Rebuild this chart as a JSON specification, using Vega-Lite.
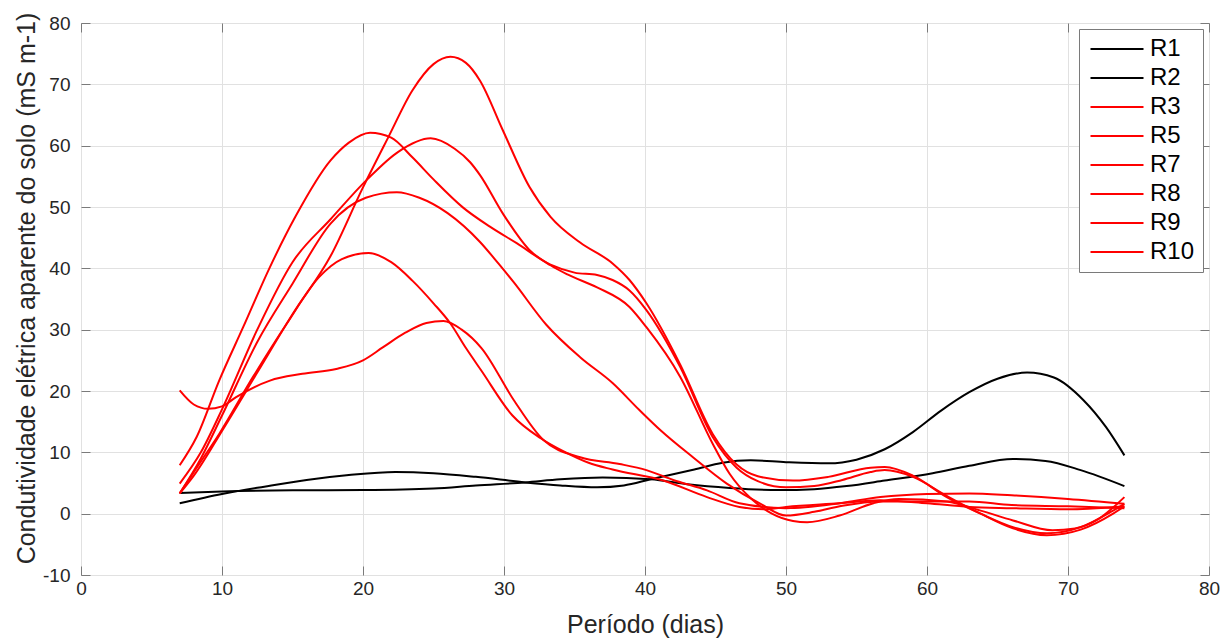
{
  "$schema": "https://vega.github.io/schema/vega-lite/v6.json",
  "width": 1128,
  "height": 552,
  "autosize": {"type": "none"},
  "padding": {"left": 81, "top": 23, "right": 15, "bottom": 67},
  "background": "white",
  "config": {
    "font": "Liberation Sans",
    "view": {"stroke": "#7a7a7a", "strokeWidth": 1}
  },
  "datasets": {
    "d": [
      {"s":"R1","x":7,"y":3.35},{"s":"R1","x":10,"y":3.6},{"s":"R1","x":15,"y":3.8},{"s":"R1","x":20,"y":3.85},{"s":"R1","x":25,"y":4.1},{"s":"R1","x":28,"y":4.6},{"s":"R1","x":31.5,"y":5.1},{"s":"R1","x":34,"y":5.6},{"s":"R1","x":37,"y":5.9},{"s":"R1","x":40.4,"y":5.6},{"s":"R1","x":43,"y":4.8},{"s":"R1","x":46,"y":4.2},{"s":"R1","x":49.5,"y":3.85},{"s":"R1","x":52,"y":4.0},{"s":"R1","x":54.3,"y":4.5},{"s":"R1","x":57,"y":5.4},{"s":"R1","x":60.4,"y":6.6},{"s":"R1","x":63,"y":7.8},{"s":"R1","x":66.1,"y":8.9},{"s":"R1","x":68.4,"y":8.6},{"s":"R1","x":70.9,"y":7.1},{"s":"R1","x":74,"y":4.5},

      {"s":"R2","x":7,"y":1.7},{"s":"R2","x":10,"y":3.2},{"s":"R2","x":13,"y":4.4},{"s":"R2","x":16,"y":5.5},{"s":"R2","x":19,"y":6.3},{"s":"R2","x":22.3,"y":6.8},{"s":"R2","x":25,"y":6.6},{"s":"R2","x":28,"y":6.0},{"s":"R2","x":31.5,"y":5.1},{"s":"R2","x":34,"y":4.6},{"s":"R2","x":36.6,"y":4.3},{"s":"R2","x":38.5,"y":4.6},{"s":"R2","x":40.4,"y":5.6},{"s":"R2","x":43.5,"y":7.2},{"s":"R2","x":45.5,"y":8.3},{"s":"R2","x":47.5,"y":8.7},{"s":"R2","x":50,"y":8.4},{"s":"R2","x":53,"y":8.2},{"s":"R2","x":55,"y":8.8},{"s":"R2","x":57,"y":10.5},{"s":"R2","x":59,"y":13.3},{"s":"R2","x":61,"y":16.8},{"s":"R2","x":63,"y":19.8},{"s":"R2","x":65,"y":22},{"s":"R2","x":67.1,"y":23.0},{"s":"R2","x":69,"y":22.2},{"s":"R2","x":71.1,"y":18.5},{"s":"R2","x":72.7,"y":14.1},{"s":"R2","x":74,"y":9.5},

      {"s":"R3","x":7,"y":20.1},{"s":"R3","x":8,"y":17.8},{"s":"R3","x":9,"y":17.1},{"s":"R3","x":10,"y":17.5},{"s":"R3","x":11,"y":19},{"s":"R3","x":13.4,"y":21.7},{"s":"R3","x":15.7,"y":22.8},{"s":"R3","x":18.1,"y":23.6},{"s":"R3","x":20,"y":25},{"s":"R3","x":21.4,"y":27.1},{"s":"R3","x":23,"y":29.5},{"s":"R3","x":24.5,"y":31.1},{"s":"R3","x":25.7,"y":31.4},{"s":"R3","x":27,"y":30},{"s":"R3","x":28.4,"y":27},{"s":"R3","x":30.7,"y":18.5},{"s":"R3","x":32.8,"y":12},{"s":"R3","x":35.4,"y":9.2},{"s":"R3","x":38.2,"y":8.1},{"s":"R3","x":40.1,"y":7.1},{"s":"R3","x":42,"y":5.5},{"s":"R3","x":44.4,"y":3.8},{"s":"R3","x":46.7,"y":1.7},{"s":"R3","x":50,"y":0.9},{"s":"R3","x":53.8,"y":1.7},{"s":"R3","x":56.7,"y":2.7},{"s":"R3","x":60,"y":3.2},{"s":"R3","x":63,"y":3.3},{"s":"R3","x":66,"y":3.0},{"s":"R3","x":70,"y":2.4},{"s":"R3","x":74,"y":1.6},

      {"s":"R5","x":7,"y":3.3},{"s":"R5","x":8.5,"y":8.5},{"s":"R5","x":9.8,"y":13},{"s":"R5","x":12.2,"y":22.3},{"s":"R5","x":14.6,"y":31},{"s":"R5","x":16.9,"y":38.6},{"s":"R5","x":18.5,"y":41.5},{"s":"R5","x":20.4,"y":42.5},{"s":"R5","x":22,"y":41},{"s":"R5","x":23.5,"y":38},{"s":"R5","x":25,"y":34.3},{"s":"R5","x":26.2,"y":31},{"s":"R5","x":27.3,"y":27},{"s":"R5","x":28.4,"y":23.3},{"s":"R5","x":30.6,"y":16},{"s":"R5","x":32.6,"y":12.3},{"s":"R5","x":34.2,"y":10.2},{"s":"R5","x":36,"y":8.3},{"s":"R5","x":37.7,"y":7.2},{"s":"R5","x":41.3,"y":5.4},{"s":"R5","x":44.4,"y":2.7},{"s":"R5","x":46.7,"y":1.1},{"s":"R5","x":48.5,"y":0.7},{"s":"R5","x":50,"y":1.1},{"s":"R5","x":53.8,"y":1.7},{"s":"R5","x":56.7,"y":2.2},{"s":"R5","x":60,"y":1.7},{"s":"R5","x":63,"y":1.1},{"s":"R5","x":66,"y":0.9},{"s":"R5","x":70,"y":0.7},{"s":"R5","x":74,"y":1.2},

      {"s":"R7","x":7,"y":3.3},{"s":"R7","x":8.5,"y":9},{"s":"R7","x":10,"y":16},{"s":"R7","x":12.5,"y":28},{"s":"R7","x":15,"y":37.5},{"s":"R7","x":17.7,"y":47.3},{"s":"R7","x":20.2,"y":51.5},{"s":"R7","x":22.4,"y":52.4},{"s":"R7","x":24,"y":51.5},{"s":"R7","x":26,"y":49},{"s":"R7","x":28.3,"y":44.3},{"s":"R7","x":29.6,"y":40.8},{"s":"R7","x":30.7,"y":37.7},{"s":"R7","x":33,"y":30.8},{"s":"R7","x":35.4,"y":25.5},{"s":"R7","x":37.7,"y":21.3},{"s":"R7","x":39.6,"y":16.9},{"s":"R7","x":41.1,"y":13.6},{"s":"R7","x":43.4,"y":9.2},{"s":"R7","x":45.8,"y":4.9},{"s":"R7","x":48.2,"y":1.6},{"s":"R7","x":50,"y":-0.3},{"s":"R7","x":52,"y":0.3},{"s":"R7","x":54,"y":1.3},{"s":"R7","x":56.7,"y":2.0},{"s":"R7","x":60,"y":2.0},{"s":"R7","x":63,"y":2.0},{"s":"R7","x":66,"y":1.4},{"s":"R7","x":70,"y":1.2},{"s":"R7","x":74,"y":0.9},

      {"s":"R8","x":7,"y":4.9},{"s":"R8","x":8.5,"y":10},{"s":"R8","x":10,"y":17},{"s":"R8","x":12.5,"y":30},{"s":"R8","x":15,"y":41},{"s":"R8","x":17.7,"y":48},{"s":"R8","x":20.3,"y":54.5},{"s":"R8","x":22.5,"y":59},{"s":"R8","x":24.8,"y":61.2},{"s":"R8","x":26.5,"y":59.5},{"s":"R8","x":27.6,"y":57.3},{"s":"R8","x":28.3,"y":55.2},{"s":"R8","x":29.9,"y":49},{"s":"R8","x":31.8,"y":43},{"s":"R8","x":33.3,"y":40.5},{"s":"R8","x":34.5,"y":39},{"s":"R8","x":36.6,"y":36.9},{"s":"R8","x":38.9,"y":33.7},{"s":"R8","x":40.1,"y":30.4},{"s":"R8","x":42.5,"y":22.3},{"s":"R8","x":44.8,"y":11.4},{"s":"R8","x":46,"y":6.5},{"s":"R8","x":47.5,"y":2.5},{"s":"R8","x":49,"y":0},{"s":"R8","x":50.5,"y":-1.2},{"s":"R8","x":51.5,"y":-1.4},{"s":"R8","x":53.8,"y":-0.3},{"s":"R8","x":56.2,"y":1.7},{"s":"R8","x":58,"y":2.4},{"s":"R8","x":61.4,"y":2.0},{"s":"R8","x":63.8,"y":0.5},{"s":"R8","x":66.1,"y":-1.1},{"s":"R8","x":68.9,"y":-2.7},{"s":"R8","x":70.5,"y":-2.4},{"s":"R8","x":72,"y":-1.1},{"s":"R8","x":74,"y":2.7},

      {"s":"R9","x":7,"y":7.9},{"s":"R9","x":8.2,"y":12.5},{"s":"R9","x":9.8,"y":21.7},{"s":"R9","x":11.5,"y":30.4},{"s":"R9","x":13.4,"y":40.2},{"s":"R9","x":15.2,"y":48.4},{"s":"R9","x":17.7,"y":57.6},{"s":"R9","x":19,"y":60.5},{"s":"R9","x":20.5,"y":62.1},{"s":"R9","x":22,"y":61.3},{"s":"R9","x":23.5,"y":58.1},{"s":"R9","x":25,"y":54.5},{"s":"R9","x":27.1,"y":49.9},{"s":"R9","x":29,"y":46.8},{"s":"R9","x":30.9,"y":44.1},{"s":"R9","x":33.3,"y":40.6},{"s":"R9","x":35,"y":39.3},{"s":"R9","x":36.6,"y":38.9},{"s":"R9","x":37.7,"y":38.1},{"s":"R9","x":38.9,"y":36.4},{"s":"R9","x":40.1,"y":33.2},{"s":"R9","x":42.5,"y":23.9},{"s":"R9","x":44.8,"y":12.5},{"s":"R9","x":46.5,"y":7.5},{"s":"R9","x":48,"y":5.3},{"s":"R9","x":50,"y":4.3},{"s":"R9","x":52,"y":4.5},{"s":"R9","x":54,"y":5.5},{"s":"R9","x":56,"y":6.8},{"s":"R9","x":57,"y":7.1},{"s":"R9","x":59,"y":6.0},{"s":"R9","x":61.4,"y":2.9},{"s":"R9","x":63.8,"y":0},{"s":"R9","x":66.1,"y":-2.4},{"s":"R9","x":68.5,"y":-3.5},{"s":"R9","x":70.9,"y":-2.6},{"s":"R9","x":73.2,"y":0},{"s":"R9","x":74,"y":1.2},

      {"s":"R10","x":7,"y":3.3},{"s":"R10","x":8,"y":6.2},{"s":"R10","x":10,"y":13.5},{"s":"R10","x":12.5,"y":23},{"s":"R10","x":15,"y":32.5},{"s":"R10","x":17.7,"y":42},{"s":"R10","x":20,"y":53.2},{"s":"R10","x":21.8,"y":61.4},{"s":"R10","x":23.5,"y":69},{"s":"R10","x":25,"y":73.3},{"s":"R10","x":26.2,"y":74.5},{"s":"R10","x":27.3,"y":73.5},{"s":"R10","x":28.3,"y":70.6},{"s":"R10","x":29.9,"y":62.6},{"s":"R10","x":31.8,"y":53.3},{"s":"R10","x":33.3,"y":48.4},{"s":"R10","x":35.4,"y":44.2},{"s":"R10","x":37.7,"y":40.8},{"s":"R10","x":38.9,"y":38.1},{"s":"R10","x":40.1,"y":34.3},{"s":"R10","x":42.5,"y":24.3},{"s":"R10","x":44.8,"y":13},{"s":"R10","x":46.5,"y":8},{"s":"R10","x":48,"y":6.1},{"s":"R10","x":50.5,"y":5.4},{"s":"R10","x":53,"y":6},{"s":"R10","x":56,"y":7.5},{"s":"R10","x":57,"y":7.6},{"s":"R10","x":59,"y":6.2},{"s":"R10","x":61.4,"y":2.7},{"s":"R10","x":63.8,"y":0},{"s":"R10","x":66.1,"y":-2.2},{"s":"R10","x":68.5,"y":-3.2},{"s":"R10","x":70.9,"y":-2.2},{"s":"R10","x":73.2,"y":0.5},{"s":"R10","x":74,"y":1.6}
    ]
  },
  "data": {"name": "d"},
  "layer": [
    {
      "mark": {"type": "line", "interpolate": "monotone", "strokeWidth": 2},
      "encoding": {
        "x": {
          "field": "x", "type": "quantitative",
          "scale": {"domain": [0, 80], "nice": false},
          "axis": {
            "orient": "bottom",
            "title": "Período (dias)", "titleFontSize": 25, "titleFontWeight": "normal", "titleColor": "#262626", "titlePadding": 14,
            "values": [0,10,20,30,40,50,60,70,80], "labelExpr": "'' + datum.value", "labelFlush": false,
            "labelFontSize": 19, "labelColor": "#262626", "labelPadding": 13,
            "grid": true, "gridColor": "#e1e1e1", "domain": false,
            "ticks": true, "tickSize": -9, "tickColor": "#7a7a7a"
          }
        },
        "y": {
          "field": "y", "type": "quantitative",
          "scale": {"domain": [-10, 80], "nice": false},
          "axis": {
            "orient": "left",
            "title": "Condutividade elétrica aparente do solo (mS m-1)", "titleFontSize": 25, "titleFontWeight": "normal", "titleColor": "#262626", "titlePadding": 3, "titleY": 265,
            "values": [-10,0,10,20,30,40,50,60,70,80], "labelExpr": "'' + datum.value",
            "labelFontSize": 19, "labelColor": "#262626", "labelPadding": 20,
            "grid": true, "gridColor": "#e1e1e1", "domain": false,
            "ticks": true, "tickSize": -9, "tickColor": "#7a7a7a"
          }
        },
        "color": {
          "field": "s", "type": "nominal",
          "scale": {"domain": ["R1","R2","R3","R5","R7","R8","R9","R10"], "range": ["#000000","#000000","#ff0000","#ff0000","#ff0000","#ff0000","#ff0000","#ff0000"]},
          "legend": {
            "title": null, "orient": "top-right", "offset": 6,
            "strokeColor": "#7a7a7a", "fillColor": "white", "padding": 8,
            "symbolType": "M-5.3,0H5.3", "symbolSize": 100, "symbolStrokeWidth": 2, "symbolOffset": 18,
            "labelFontSize": 24, "labelColor": "#000000", "labelOffset": 21, "rowPadding": 5
          }
        }
      }
    },
    {
      "transform": [{"filter": "datum.x > 1000"}],
      "mark": {"type": "line"},
      "encoding": {
        "x": {
          "field": "x", "type": "quantitative",
          "axis": {"orient": "top", "title": null, "labels": false, "grid": false, "domain": false, "values": [0,10,20,30,40,50,60,70,80], "ticks": true, "tickSize": -9, "tickColor": "#7a7a7a"}
        },
        "y": {
          "field": "y", "type": "quantitative",
          "axis": {"orient": "right", "title": null, "labels": false, "grid": false, "domain": false, "values": [-10,0,10,20,30,40,50,60,70,80], "ticks": true, "tickSize": -9, "tickColor": "#7a7a7a"}
        }
      }
    }
  ]
}
